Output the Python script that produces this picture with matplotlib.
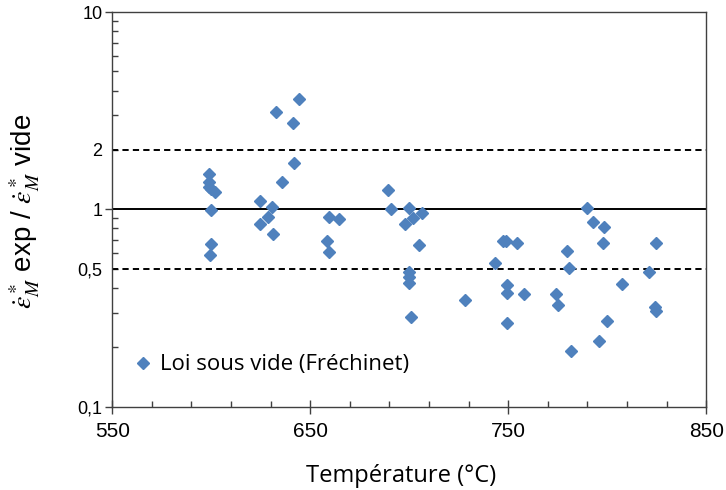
import matplotlib
matplotlib.use('Agg')
import matplotlib.pyplot as plt
from matplotlib.ticker import FixedLocator, FuncFormatter

plt.rcParams['mathtext.fontset'] = 'stix'
plt.rcParams['lines.scale_dashes'] = False

# measured points: temperature (°C) and ratio of strain rates
temp = [599, 599, 599, 600, 602, 600, 600, 599.5,
        624.6, 630.9, 628.8, 624.6, 631.2, 635.8, 641.8, 632.7, 641.1, 644.2,
        659.3, 664.4, 658.3, 659.3,
        689.3, 691,
        699.8, 702.1, 698.1, 706.5, 705.1, 699.8, 699.8, 699.8, 700.8,
        728.2, 743.2, 747.3, 749, 754.3, 749.3, 749.3, 749.3, 758,
        773.9, 774.9, 779.6, 780.8, 781.6,
        789.7, 792.7, 798.5, 797.8, 796.1, 799.8, 807.7,
        820.9, 824.4, 824.1, 824.6]
ratio = [1.51, 1.38, 1.30, 1.27, 1.22, 0.99, 0.667, 0.587,
         1.10, 1.03, 0.915, 0.846, 0.747, 1.38, 1.71, 3.11, 2.75, 3.64,
         0.918, 0.89, 0.694, 0.605,
         1.26, 1.0,
         1.01, 0.90, 0.843, 0.962, 0.66, 0.483, 0.452, 0.422, 0.286,
         0.347, 0.532, 0.694, 0.694, 0.678, 0.414, 0.375, 0.266, 0.371,
         0.372, 0.327, 0.617, 0.503, 0.192,
         1.01, 0.863, 0.811, 0.673, 0.216, 0.272, 0.417,
         0.483, 0.673, 0.319, 0.305]

ref_lines = [2, 1, 0.5]
x_ticks = [550, 650, 750, 850]
xmin, xmax = 550, 850
ymin, ymax = 0.1, 10

fig = plt.figure(figsize=(7.26, 4.90), dpi=100)
ax = fig.add_axes([0.1547, 0.170, 0.818, 0.8055])

ax.axhline(ref_lines[0], color='black', lw=1.4, dashes=(4.5, 3.0))
ax.axhline(ref_lines[1], color='black', lw=1.4)
ax.axhline(ref_lines[2], color='black', lw=1.4, dashes=(4.5, 3.0))

ax.plot(temp, ratio, 'D', color='#4F81BD', ms=6.2, mec='#4F81BD',
        label='Loi sous vide (Fréchinet)', zorder=3)

ax.set_yscale('log')
ax.set_xlim(xmin, xmax)
ax.set_ylim(ymin, ymax)

ax.xaxis.set_major_locator(FixedLocator(x_ticks))
ax.xaxis.set_minor_locator(FixedLocator(list(range(xmin, xmax, 20))))
ax.yaxis.set_major_locator(FixedLocator([0.1, 1, 10]))
ax.yaxis.set_minor_locator(FixedLocator([k * 10.0 ** e for e in (-1, 0) for k in range(2, 10)]))


def fmt_major(v, pos):
    return ('%g' % v).replace('.', ',')


def fmt_minor(v, pos):
    if abs(v - 0.5) < 1e-6 or abs(v - 2) < 1e-6:
        return ('%g' % v).replace('.', ',')
    return ''


ax.yaxis.set_major_formatter(FuncFormatter(fmt_major))
ax.yaxis.set_minor_formatter(FuncFormatter(fmt_minor))

ax.tick_params(axis='x', which='major', direction='inout', length=10, width=1,
               labelsize=15, pad=6, color='#404040')
ax.tick_params(axis='x', which='minor', direction='in', length=4, width=1, color='#404040')
ax.tick_params(axis='y', which='major', direction='out', length=5, width=1,
               labelsize=13, pad=2, color='#404040')
ax.tick_params(axis='y', which='minor', direction='in', length=4, width=1,
               labelsize=13, pad=7, color='#404040')
for lab in ax.get_xticklabels() + ax.get_yticklabels() + ax.get_yticklabels(minor=True):
    lab.set_fontfamily('Liberation Sans')

for sp in ax.spines.values():
    sp.set_color('#404040')
    sp.set_linewidth(1.0)

ax.set_xlabel('Température (°C)', fontsize=17, family='Open Sans')
ax.xaxis.set_label_coords(0.487, -0.145)
ax.set_ylabel(r'$\dot{\varepsilon}^*_M$ exp / $\dot{\varepsilon}^*_M$ vide',
              fontsize=20, family='Liberation Sans')
ax.yaxis.set_label_coords(-0.118, 0.495)

leg = ax.legend(loc='center left', bbox_to_anchor=(0.036, 0.106), frameon=False,
                handlelength=0.8, handletextpad=0.4, borderpad=0, borderaxespad=0,
                prop={'family': 'Open Sans', 'size': 16})

fig.savefig('out.png', dpi=100)
